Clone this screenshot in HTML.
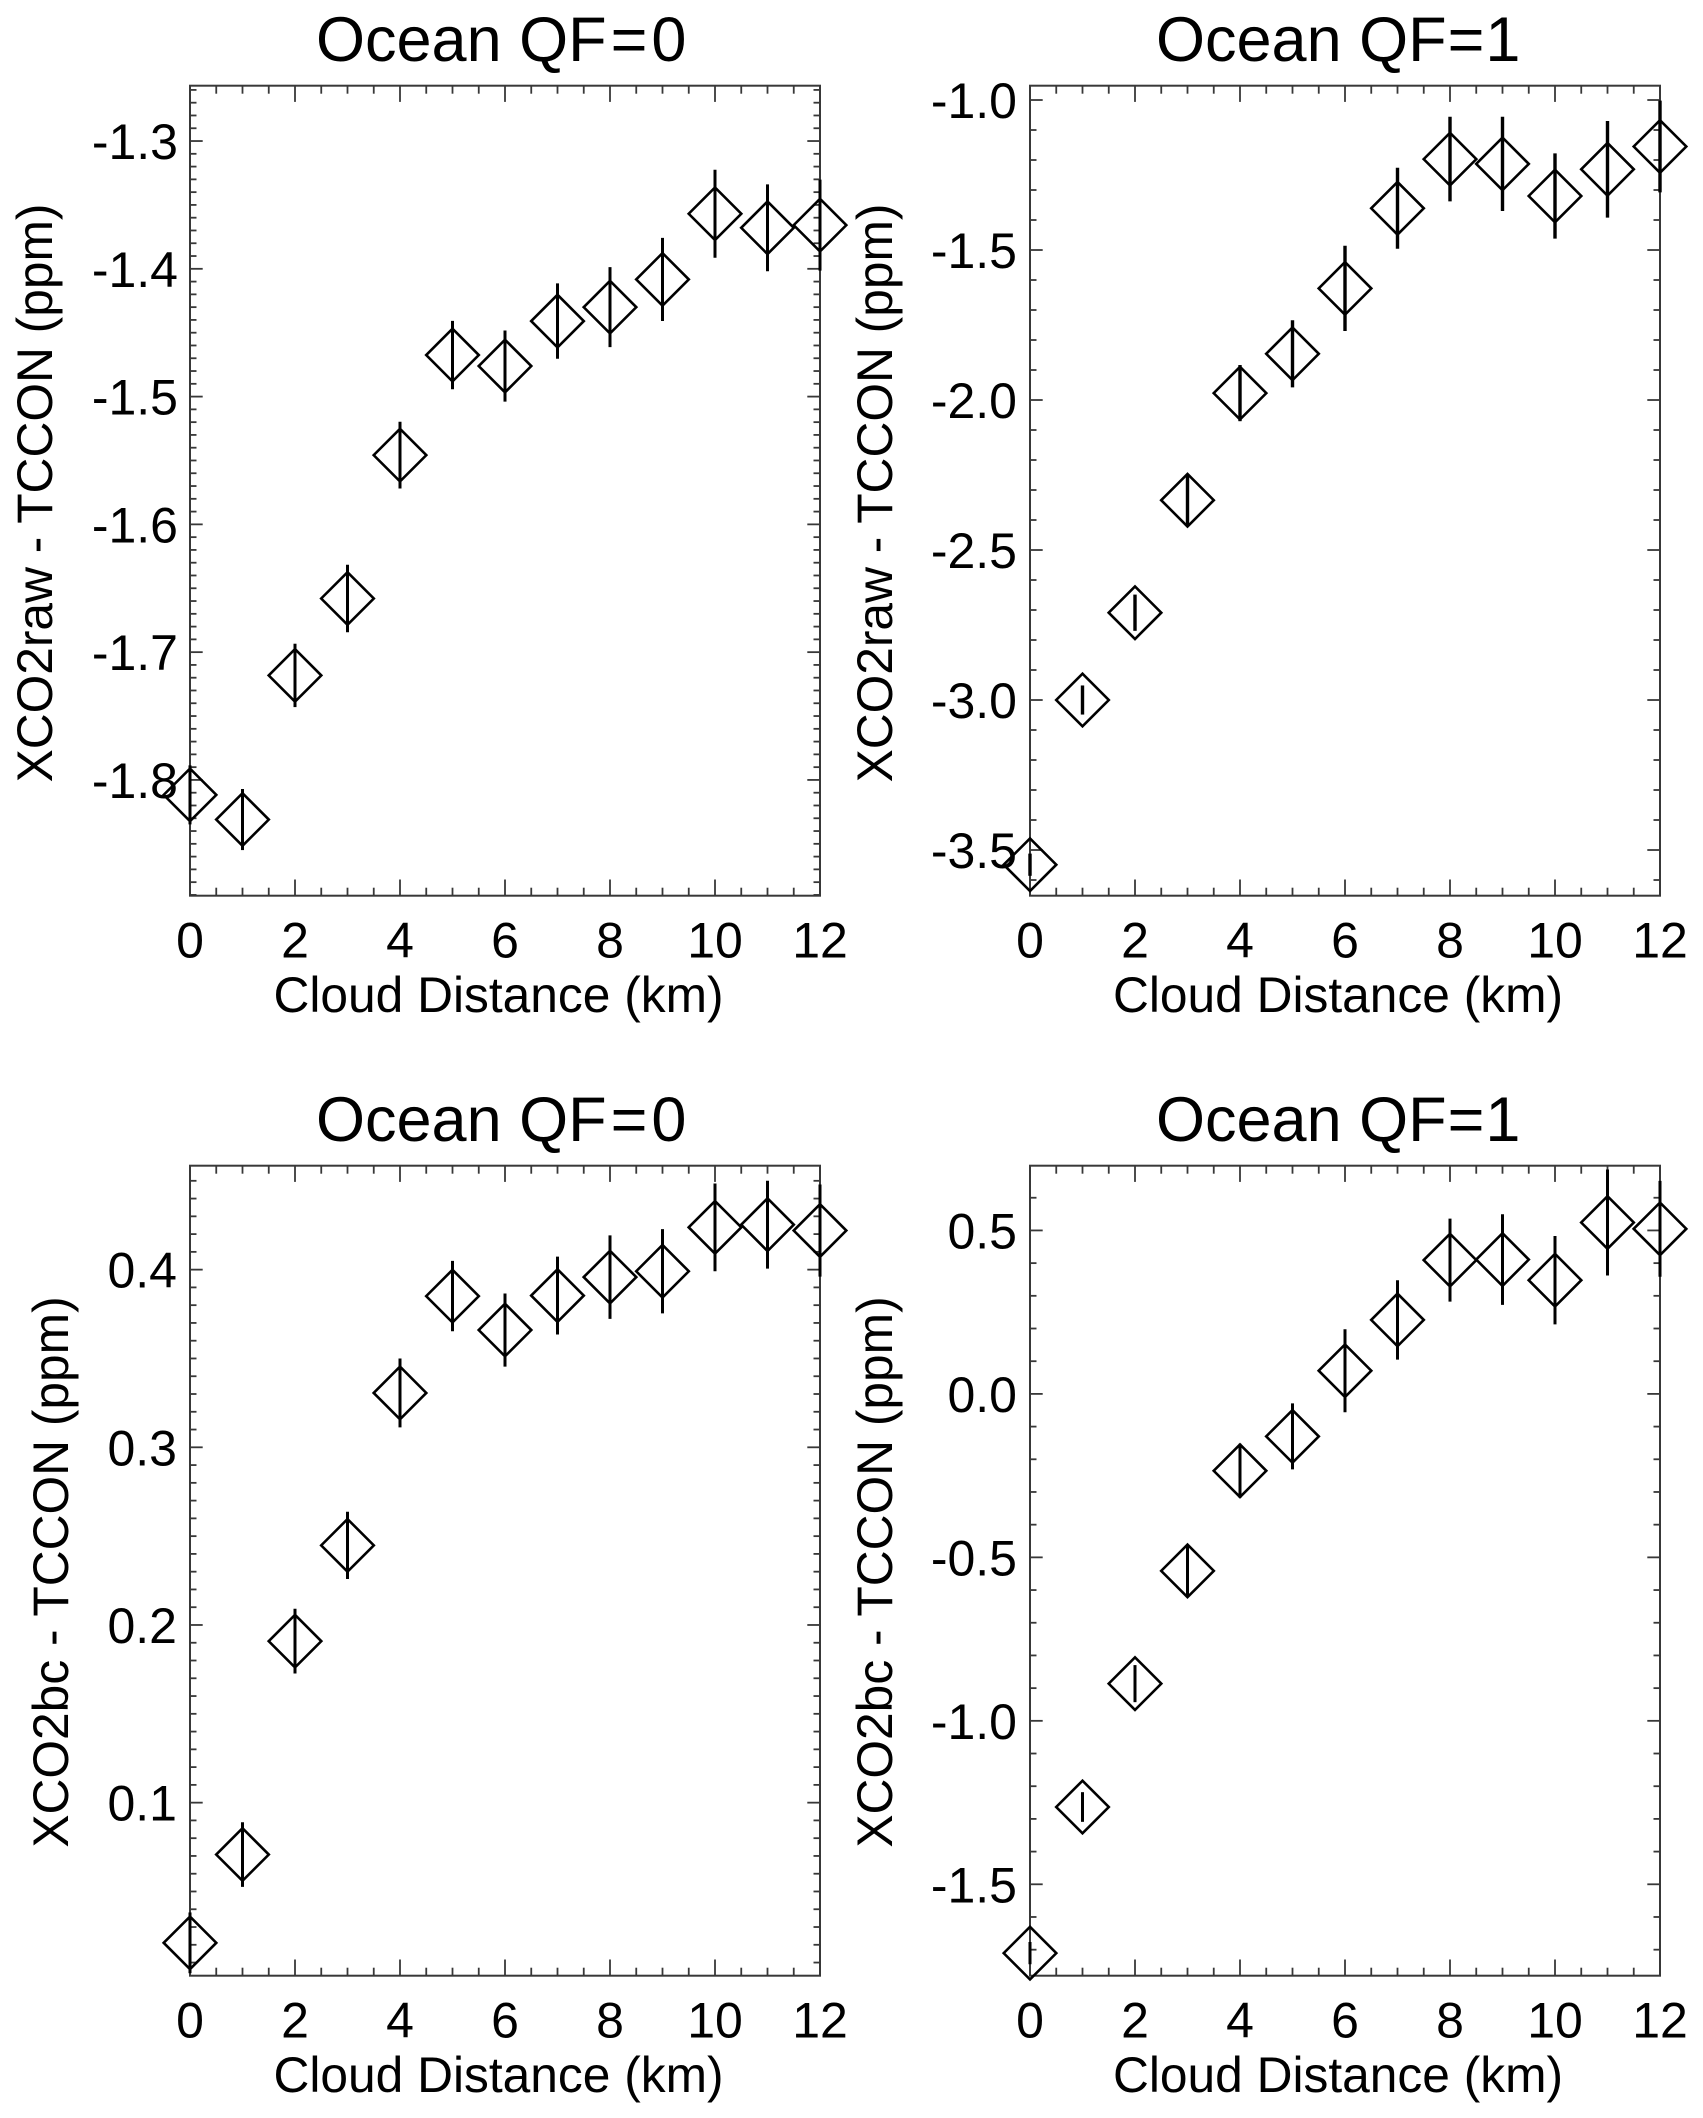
<!DOCTYPE html>
<html lang="en">
<head>
<meta charset="utf-8">
<title>Cloud Distance Bias Panels</title>
<style>
html,body{margin:0;padding:0;background:#fff;width:1703px;height:2118px;overflow:hidden}
svg{display:block}
text{font-family:"Liberation Sans",sans-serif;fill:#000}
.title{font-size:63px}
.axis-title{font-size:49.7px}
.tick{font-size:50px}
</style>
</head>
<body>
<svg id="chart" xmlns="http://www.w3.org/2000/svg" width="1703" height="2118" viewBox="0 0 1703 2118">
  <rect x="0" y="0" width="1703" height="2118" fill="#fff"/>
  <text class="title" x="316" y="61">Ocean QF<tspan dx="4">=</tspan><tspan dx="4">0</tspan></text>
  <text class="title" x="1156" y="61">Ocean QF<tspan dx="1">=</tspan><tspan dx="1">1</tspan></text>
  <text class="title" x="316" y="1141">Ocean QF<tspan dx="4">=</tspan><tspan dx="4">0</tspan></text>
  <text class="title" x="1156" y="1141">Ocean QF<tspan dx="1">=</tspan><tspan dx="1">1</tspan></text>
  <text class="axis-title" x="498.5" y="1012" text-anchor="middle">Cloud Distance (km)</text>
  <text class="axis-title" x="1338" y="1012" text-anchor="middle">Cloud Distance (km)</text>
  <text class="axis-title" x="498.5" y="2092" text-anchor="middle">Cloud Distance (km)</text>
  <text class="axis-title" x="1338" y="2092" text-anchor="middle">Cloud Distance (km)</text>
  <text class="axis-title" transform="translate(52,493) rotate(-90)" text-anchor="middle">XCO2raw - TCCON (ppm)</text>
  <text class="axis-title" transform="translate(892,493) rotate(-90)" text-anchor="middle">XCO2raw - TCCON (ppm)</text>
  <text class="axis-title" transform="translate(68,1572) rotate(-90)" text-anchor="middle">XCO2bc - TCCON (ppm)</text>
  <text class="axis-title" transform="translate(892,1572) rotate(-90)" text-anchor="middle">XCO2bc - TCCON (ppm)</text>
</svg>
<script>
const cloudDistances = [0,1,2,3,4,5,6,7,8,9,10,11,12];
const xTickLabels = ["0","2","4","6","8","10","12"];

const rawQf0Values = [-1.8117,-1.831,-1.7182,-1.658,-1.5458,-1.4675,-1.4761,-1.4409,-1.43,-1.4083,-1.3569,-1.3679,-1.3658];
const rawQf0Errors = [0.0231,0.0239,0.0248,0.0264,0.0261,0.0268,0.0278,0.0295,0.0313,0.0325,0.0344,0.034,0.0356];
const rawQf0YTicks = ["-1.3","-1.4","-1.5","-1.6","-1.7","-1.8"];
const rawQf0YRange = [-1.8906,-1.2567];

const rawQf1Values = [-3.549,-3.0,-2.709,-2.334,-1.977,-1.846,-1.628,-1.361,-1.197,-1.213,-1.32,-1.231,-1.155];
const rawQf1Errors = [0.037,0.0485,0.0604,0.085,0.0936,0.112,0.142,0.135,0.141,0.157,0.142,0.161,0.153];
const rawQf1YTicks = ["-1.0","-1.5","-2.0","-2.5","-3.0","-3.5"];
const rawQf1YRange = [-3.6523,-0.9523];

const bcQf0Values = [0.0211,0.0708,0.1909,0.2448,0.3306,0.3851,0.366,0.3854,0.3958,0.3991,0.4238,0.4253,0.422];
const bcQf0Errors = [0.0171,0.0182,0.0182,0.0189,0.0194,0.0198,0.0206,0.0219,0.0235,0.0237,0.0247,0.0247,0.0259];
const bcQf0YTicks = ["0.1","0.2","0.3","0.4"];
const bcQf0YRange = [0.0026,0.4585];

const bcQf1Values = [-1.7105,-1.2636,-0.8862,-0.5413,-0.2352,-0.13,0.0709,0.2263,0.4093,0.4109,0.3478,0.5243,0.5049];
const bcQf1Errors = [0.034,0.0454,0.0567,0.076,0.0826,0.101,0.127,0.1215,0.127,0.1385,0.135,0.162,0.1466];
const bcQf1YTicks = ["-1.5","-1.0","-0.5","0.0","0.5"];
const bcQf1YRange = [-1.7796,0.698];

const NS = "http://www.w3.org/2000/svg";
const svgRoot = document.getElementById("chart");
const AXIS_COLOR = "#383838";

function makeEl(parent, tag) {
  const el = document.createElementNS(NS, tag);
  parent.appendChild(el);
  return el;
}
function strokeLine(parent, x1, y1, x2, y2, color, width) {
  const el = makeEl(parent, "line");
  el.setAttribute("x1", x1);
  el.setAttribute("y1", y1);
  el.setAttribute("x2", x2);
  el.setAttribute("y2", y2);
  el.setAttribute("stroke", color);
  el.setAttribute("stroke-width", width);
  return el;
}

function drawPanel(name, box, values, errors, yTicks, yRange, minorStep, labelRight, barWidth) {
  const group = makeEl(svgRoot, "g");
  
  

  const xMin = cloudDistances[0];
  const xMax = cloudDistances[cloudDistances.length - 1];
  const xScale = v => box.left + (v - xMin) / (xMax - xMin) * box.width;
  const yScale = v => box.top + (yRange[1] - v) / (yRange[1] - yRange[0]) * box.height;
  const bottom = box.top + box.height;
  const right = box.left + box.width;

  const frame = makeEl(group, "rect");
  
  
  frame.setAttribute("x", box.left);
  frame.setAttribute("y", box.top);
  frame.setAttribute("width", box.width);
  frame.setAttribute("height", box.height);
  frame.setAttribute("fill", "none");
  frame.setAttribute("stroke", AXIS_COLOR);
  frame.setAttribute("stroke-width", 2);

  const xMinorCount = (xMax - xMin) * 2;
  for (let i = 0; i <= xMinorCount; i++) {
    const v = xMin + i * 0.5;
    const len = (i % 4 === 0) ? 16.2 : 8;
    const px = xScale(v);
    const b = strokeLine(group, px, bottom, px, bottom - len, AXIS_COLOR, 1.8);
    
    
    const t = strokeLine(group, px, box.top, px, box.top + len, AXIS_COLOR, 1.8);
    
    
  }

  const anchor = Number(yTicks[0]);
  const startIdx = Math.ceil((yRange[0] - anchor) / minorStep - 1e-6);
  const endIdx = Math.floor((yRange[1] - anchor) / minorStep + 1e-6);
  const majors = yTicks.map(Number);
  for (let i = startIdx; i <= endIdx; i++) {
    const v = anchor + i * minorStep;
    const isMajor = majors.some(m => Math.abs(m - v) < minorStep / 10);
    const len = isMajor ? 12.7 : 6.5;
    const py = yScale(v);
    const l = strokeLine(group, box.left, py, box.left + len, py, AXIS_COLOR, 1.8);
    
    
    const r = strokeLine(group, right, py, right - len, py, AXIS_COLOR, 1.8);
    
    
  }

  xTickLabels.forEach(label => {
    const el = makeEl(group, "text");
    
    
    el.setAttribute("class", "tick");
    el.setAttribute("x", xScale(Number(label)));
    el.setAttribute("y", box.top + box.height + 62);
    el.setAttribute("text-anchor", "middle");
    el.textContent = label;
  });

  yTicks.forEach(label => {
    const el = makeEl(group, "text");
    
    
    el.setAttribute("class", "tick");
    el.setAttribute("x", labelRight);
    el.setAttribute("y", yScale(Number(label)) + 18);
    el.setAttribute("text-anchor", "end");
    el.textContent = label;
  });

  cloudDistances.forEach((d, i) => {
    const px = xScale(d);
    const py = yScale(values[i]);
    const bar = strokeLine(group, px, yScale(values[i] - errors[i]), px, yScale(values[i] + errors[i]), "#000", barWidth);
    
    
    const mark = makeEl(group, "polygon");
    
    
    const r = 26.3;
    mark.setAttribute("points", (px - r) + "," + py + " " + px + "," + (py - r) + " " + (px + r) + "," + py + " " + px + "," + (py + r));
    mark.setAttribute("fill", "none");
    mark.setAttribute("stroke", "#000");
    mark.setAttribute("stroke-width", 2.6);
  });
}

drawPanel("raw-qf0", {left:190, top:85.7, width:630, height:810}, rawQf0Values, rawQf0Errors, rawQf0YTicks, rawQf0YRange, 0.01, 178, 3);
drawPanel("raw-qf1", {left:1030, top:85.7, width:630, height:810}, rawQf1Values, rawQf1Errors, rawQf1YTicks, rawQf1YRange, 0.1, 1017, 3.4);
drawPanel("bc-qf0", {left:190, top:1165.7, width:630, height:810}, bcQf0Values, bcQf0Errors, bcQf0YTicks, bcQf0YRange, 0.01, 177, 3);
drawPanel("bc-qf1", {left:1030, top:1165.7, width:630, height:810}, bcQf1Values, bcQf1Errors, bcQf1YTicks, bcQf1YRange, 0.1, 1017, 3);
</script>
</body>
</html>
